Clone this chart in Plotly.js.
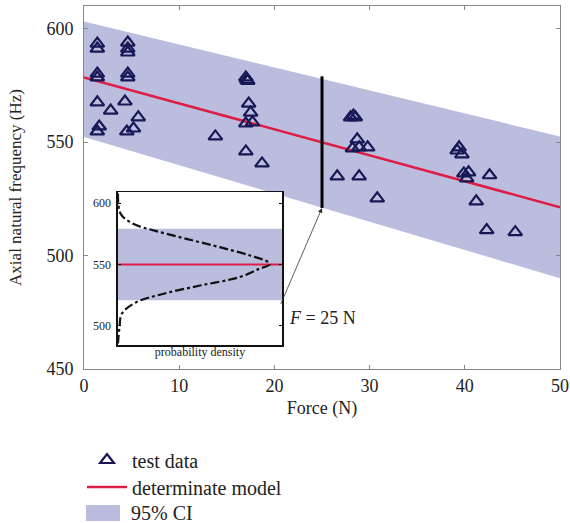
<!DOCTYPE html>
<html>
<head>
<meta charset="utf-8">
<script src="https://cdn.plot.ly/plotly-3.0.1.min.js"></script>
<style>html,body{margin:0;padding:0;background:#fff;}#chart{width:570px;height:523px;}</style>
</head>
<body>
<div id="chart"></div>
<script>
// Test data: force (N) and axial natural frequency (Hz)
const testForce = [
  1.4, 1.4, 1.4, 1.4, 1.4, 1.6, 1.4,
  4.6, 4.6, 4.6, 4.6, 4.6, 4.3, 4.5, 5.2,
  2.8, 5.7, 13.8,
  17.0, 17.1, 17.2, 17.3, 17.5, 17.0, 17.7, 17.0, 18.7,
  28.0, 28.3, 28.5, 28.7, 28.2, 28.9, 29.8, 26.6, 28.9, 30.8,
  39.2, 39.7, 39.4, 39.9, 40.4, 40.2, 42.6, 41.2, 42.3, 45.3
];
const testFreq = [
  593.4, 591.2, 580.2, 578.5, 567.5, 556.9, 554.7,
  593.9, 591.2, 589.5, 580.2, 578.5, 567.9, 554.7, 556.0,
  563.9, 560.9, 552.5,
  578.5, 577.5, 577.0, 567.0, 563.0, 558.2, 558.7, 545.9, 540.6,
  560.9, 561.7, 560.9, 551.2, 547.2, 547.7, 547.7, 534.9, 534.9, 525.2,
  546.3, 544.6, 547.7, 536.2, 536.7, 534.0, 535.4, 523.9, 511.2, 510.3
];
// Determinate model line (end points)
const modelForce = [0, 50];
const modelFreq = [578.5, 521.3];
// 95% CI band edges
const ciForce = [0, 50];
const ciUpper = [603.2, 552.5];
const ciLower = [552.3, 490.0];
// Cross-section at F = 25 N
const sectionForce = 25;
const sectionLow = 521;
const sectionHigh = 579;
const sectionMean = 550;
// Inset: probability density (relative) read along frequency
const pdfFreq = [607.7, 591.2, 583.1, 577.6, 570.9, 564.1, 557.3, 551.9, 550.0, 546.5, 539.7, 532.9, 526.2, 519.3, 509.9, 499.0, 485.7];
const pdfDens = [0.0, 0.018, 0.10, 0.24, 0.45, 0.67, 0.87, 0.99, 1.0, 0.93, 0.80, 0.54, 0.30, 0.12, 0.025, 0.01, 0.0];
// Tick labels
const xTicks = [0, 10, 20, 30, 40, 50];
const yTicks = [450, 500, 550, 600];
const insetYTicks = [500, 550, 600];
// Legend labels
const legendNames = ['test data', 'determinate model', '95% CI'];

const bandColor = 'rgb(186,189,222)';
const redColor = 'rgb(222,28,70)';
const navy = 'rgb(24,24,86)';
const serif = 'Liberation Serif, DejaVu Serif, serif';
const txt = '#222';

// pixel -> paper helpers for the legend area below the plot
const px2x = px => (px - 84) / 476;
const py2y = py => (369 - py) / 363;

const traces = [
  {
    x: ciForce.concat(ciForce.slice().reverse()),
    y: ciUpper.concat(ciLower.slice().reverse()),
    type: 'scatter', mode: 'lines', fill: 'toself',
    fillcolor: bandColor, line: {width: 0, color: bandColor},
    name: legendNames[2], showlegend: false, hoverinfo: 'skip'
  },
  {
    x: modelForce, y: modelFreq, type: 'scatter', mode: 'lines',
    line: {color: redColor, width: 2.5},
    name: legendNames[1], legend: 'legend2'
  },
  {
    x: testForce, y: testFreq, type: 'scatter', mode: 'markers',
    marker: {symbol: 'triangle-up-open', size: 12, color: navy, line: {width: 2.2, color: navy}},
    name: legendNames[0], legend: 'legend'
  },
  // inset
  {
    x: [0, 1.08, 1.08, 0], y: [sectionLow, sectionLow, sectionHigh, sectionHigh],
    xaxis: 'x2', yaxis: 'y2', type: 'scatter', mode: 'lines', fill: 'toself',
    fillcolor: bandColor, line: {width: 0}, showlegend: false, hoverinfo: 'skip'
  },
  {
    x: [0, 1.08], y: [sectionMean, sectionMean], xaxis: 'x2', yaxis: 'y2',
    type: 'scatter', mode: 'lines', line: {color: redColor, width: 2}, showlegend: false
  },
  {
    x: pdfDens, y: pdfFreq, xaxis: 'x2', yaxis: 'y2', type: 'scatter', mode: 'lines',
    line: {color: '#111', width: 2.2, dash: 'dashdot', shape: 'spline'}, showlegend: false
  }
];

function leg(py) {
  return {
    x: px2x(82), xanchor: 'left', y: py2y(py), yanchor: 'middle',
    itemwidth: 40, font: {family: serif, size: 20, color: txt},
    bgcolor: 'rgba(0,0,0,0)', borderwidth: 0
  };
}

const layout = {
  width: 570, height: 523,
  margin: {l: 84, r: 10, t: 6, b: 154, autoexpand: false},
  paper_bgcolor: '#fff', plot_bgcolor: '#fff',
  font: {family: serif, size: 17, color: txt},
  showlegend: true,
  legend: leg(460),
  legend2: leg(487),
  xaxis: {
    range: [0, 50], tickvals: xTicks, ticks: 'inside', ticklen: 4,
    tickcolor: '#888', linecolor: '#888', linewidth: 1, mirror: 'ticks',
    showgrid: false, zeroline: false, showline: true,
    tickfont: {family: serif, size: 18, color: txt},
    title: {text: 'Force (N)', font: {family: serif, size: 18, color: txt}, standoff: 6}
  },
  yaxis: {
    range: [450, 610], tickvals: yTicks, ticks: 'inside', ticklen: 4,
    tickcolor: '#888', linecolor: '#888', linewidth: 1, mirror: 'ticks',
    showgrid: false, zeroline: false, showline: true, ticklabelstandoff: 6,
    tickfont: {family: serif, size: 18, color: txt},
    title: {text: 'Axial natural frequency (Hz)', font: {family: serif, size: 17, color: txt}, standoff: 20}
  },
  xaxis2: {
    domain: [0.0714, 0.416], anchor: 'y2', range: [0, 1.08],
    showticklabels: false, ticks: '', showgrid: false, zeroline: false,
    showline: true, linecolor: '#111', linewidth: 1.5, mirror: true,
    title: {text: 'probability density', font: {family: serif, size: 12, color: txt}, standoff: 2}
  },
  yaxis2: {
    domain: [0.0661, 0.4876], anchor: 'x2', range: [484.5, 609],
    tickvals: insetYTicks, ticks: 'inside', ticklen: 3, tickcolor: '#111',
    showgrid: false, zeroline: false, showline: true, linecolor: '#111', linewidth: 1.5, mirror: 'ticks',
    tickfont: {family: serif, size: 12, color: txt}, ticklabelstandoff: 3
  },
  shapes: [
    {type: 'line', xref: 'x', yref: 'y', x0: sectionForce, x1: sectionForce, y0: sectionLow, y1: sectionHigh,
     line: {color: '#000', width: 3}},
    // legend swatch for the CI band
    {type: 'rect', xref: 'paper', yref: 'paper', x0: px2x(86), x1: px2x(120), y0: py2y(521), y1: py2y(505),
     fillcolor: bandColor, line: {width: 0}}
  ],
  annotations: [
    {xref: 'x', yref: 'y', x: sectionForce, y: sectionLow, axref: 'x', ayref: 'y', ax: 20.6, ay: 478,
     text: '', showarrow: true, arrowhead: 2, arrowsize: 1.2, arrowwidth: 0.8, arrowcolor: '#333'},
    {xref: 'x', yref: 'y', x: 25.1, y: 472.4, text: '<i>F</i> = 25 N', showarrow: false,
     font: {family: serif, size: 18, color: txt}},
    {xref: 'paper', yref: 'paper', x: px2x(129), y: py2y(513), xanchor: 'left', yanchor: 'middle',
     text: legendNames[2], showarrow: false, font: {family: serif, size: 20, color: txt}}
  ]
};

Plotly.newPlot('chart', traces, layout, {displayModeBar: false, staticPlot: true});
</script>
</body>
</html>
